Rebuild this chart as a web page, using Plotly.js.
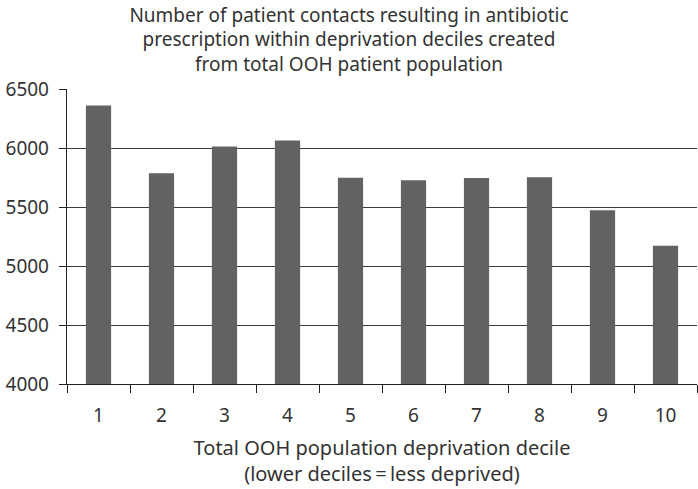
<!DOCTYPE html>
<html>
<head>
<meta charset="utf-8">
<script src="https://cdn.plot.ly/plotly-3.0.1.min.js"></script>
<style>body{margin:0;background:#fff;}#chart{width:698px;height:489px;}</style>
</head>
<body>
<div id="chart"></div>
<script>
const deciles = ["1","2","3","4","5","6","7","8","9","10"];
const contacts = [6361, 5787, 6013, 6064, 5747, 5727, 5745, 5753, 5473, 5172];
const yTicks = [4000, 4500, 5000, 5500, 6000, 6500];

const textColor = "#333333";
const fontFam = "'Noto Sans', 'Open Sans', sans-serif";

Plotly.newPlot("chart", [{
  type: "bar",
  x: deciles,
  y: contacts,
  marker: {color: "#616264"},
  hoverinfo: "x+y"
}], {
  width: 698, height: 489,
  margin: {l: 67, r: 1, t: 89, b: 105},
  paper_bgcolor: "#ffffff",
  plot_bgcolor: "#ffffff",
  bargap: 0.6,
  font: {family: fontFam, color: textColor, size: 18},
  title: {
    text: "Number of patient contacts resulting in antibiotic<br>prescription within deprivation deciles created<br>from total OOH patient population",
    font: {family: fontFam, size: 19, color: textColor},
    x: 0.5, xref: "container", xanchor: "center",
    y: 0.956, yref: "container", yanchor: "middle"
  },
  xaxis: {
    type: "category",
    tickson: "boundaries",
    ticks: "outside",
    ticklen: 8,
    tickcolor: "#222",
    showline: true,
    linecolor: "#222",
    linewidth: 1.2,
    showgrid: false,
    tickfont: {size: 19, color: textColor},
    ticklabelstandoff: 14,
    title: {
      text: "Total OOH population deprivation decile<br>(lower deciles\u2009=\u2009less deprived)",
      font: {size: 20, color: textColor},
      standoff: 14
    }
  },
  yaxis: {
    range: [4000, 6500],
    tickvals: yTicks,
    ticktext: yTicks.map(String),
    ticks: "outside",
    ticklen: 7,
    tickcolor: "#222",
    showline: true,
    linecolor: "#222",
    linewidth: 1.2,
    showgrid: true,
    gridcolor: "#3c3c3c",
    gridwidth: 1,
    zeroline: false,
    tickfont: {size: 19, color: textColor},
    ticklabelstandoff: 6
  },
  showlegend: false
}, {displayModeBar: false, staticPlot: true});
</script>
</body>
</html>
